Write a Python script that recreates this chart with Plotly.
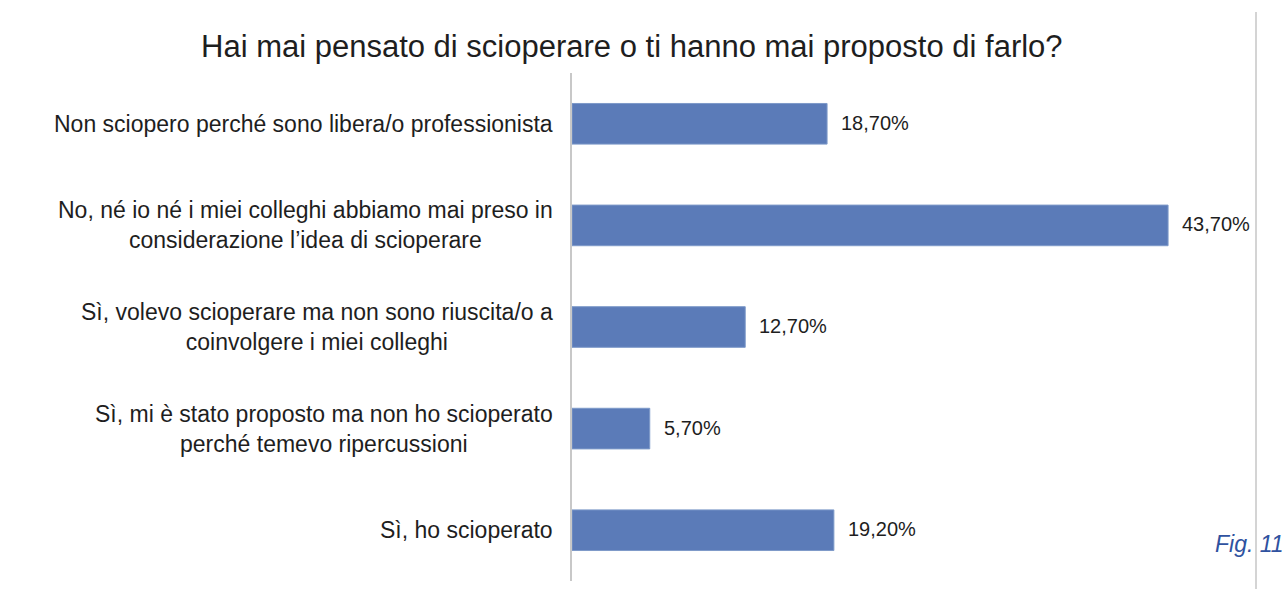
import plotly.graph_objects as go

# Survey answers (top to bottom) and their shares in percent
categories = [
    "Non sciopero perché sono libera/o professionista",
    "No, né io né i miei colleghi abbiamo mai preso in<br>considerazione l’idea di scioperare",
    "Sì, volevo scioperare ma non sono riuscita/o a<br>coinvolgere i miei colleghi",
    "Sì, mi è stato proposto ma non ho scioperato<br>perché temevo ripercussioni",
    "Sì, ho scioperato",
]
values = [18.7, 43.7, 12.7, 5.7, 19.2]
value_labels = [f"{v:.2f}%".replace(".", ",") for v in values]

title_text = "Hai mai pensato di scioperare o ti hanno mai proposto di farlo?"
fig_label = "Fig. 11"

W, H = 1286, 589
ML, MR, MT, MB = 572, 32, 73, 8
PW, PH = W - ML - MR, H - MT - MB

FONT = "Liberation Sans, Arial"

fig = go.Figure(
    go.Bar(
        x=values,
        y=categories,
        orientation="h",
        marker=dict(color="#5b7bb8", line=dict(color="#7e9ac9", width=1)),
        width=0.4,
        hoverinfo="skip",
    )
)

annotations = []
# Value labels just right of each bar
for cat, v, lab in zip(categories, values, value_labels):
    annotations.append(dict(
        x=v, y=cat, xref="x", yref="y", text=lab, showarrow=False,
        xanchor="left", xshift=12, yshift=1,
        font=dict(family=FONT, size=20, color="#1e1e1e"),
    ))
# Category labels, centred line by line, to the left of the axis
for cat in categories:
    annotations.append(dict(
        x=0, y=cat, xref="paper", yref="y", text=cat, showarrow=False,
        xanchor="right", xshift=-17, align="center",
        font=dict(family=FONT, size=23, color="#1e1e1e"),
    ))
# Title
annotations.append(dict(
    x=(632 - ML) / PW, y=1 + (MT - 46) / PH,
    xref="paper", yref="paper", text=title_text, showarrow=False,
    xanchor="center", yanchor="middle",
    font=dict(family=FONT, size=31, color="#1e1e1e"),
))
# Figure number at the lower right
annotations.append(dict(
    x=(1213 - ML) / PW, y=(H - MB - 544) / PH,
    xref="paper", yref="paper", text=f"<i>{fig_label}</i>", showarrow=False,
    xanchor="left", yanchor="middle",
    font=dict(family=FONT, size=23, color="#2f52a0"),
))

fig.update_layout(
    width=W, height=H,
    margin=dict(l=ML, r=MR, t=MT, b=MB),
    paper_bgcolor="white", plot_bgcolor="white",
    showlegend=False,
    annotations=annotations,
    xaxis=dict(range=[0, 50], visible=False),
    yaxis=dict(
        categoryorder="array", categoryarray=categories[::-1],
        showticklabels=False, ticks="",
        showline=True, linecolor="#c8c8c8", linewidth=2,
        showgrid=False, zeroline=False,
    ),
    shapes=[dict(
        type="line", xref="paper", yref="paper",
        x0=(1256 - ML) / PW, x1=(1256 - ML) / PW,
        y0=1 + (MT - 12) / PH, y1=-MB / PH,
        line=dict(color="#d4d4d4", width=2),
    )],
)

fig.write_html("out.html")
